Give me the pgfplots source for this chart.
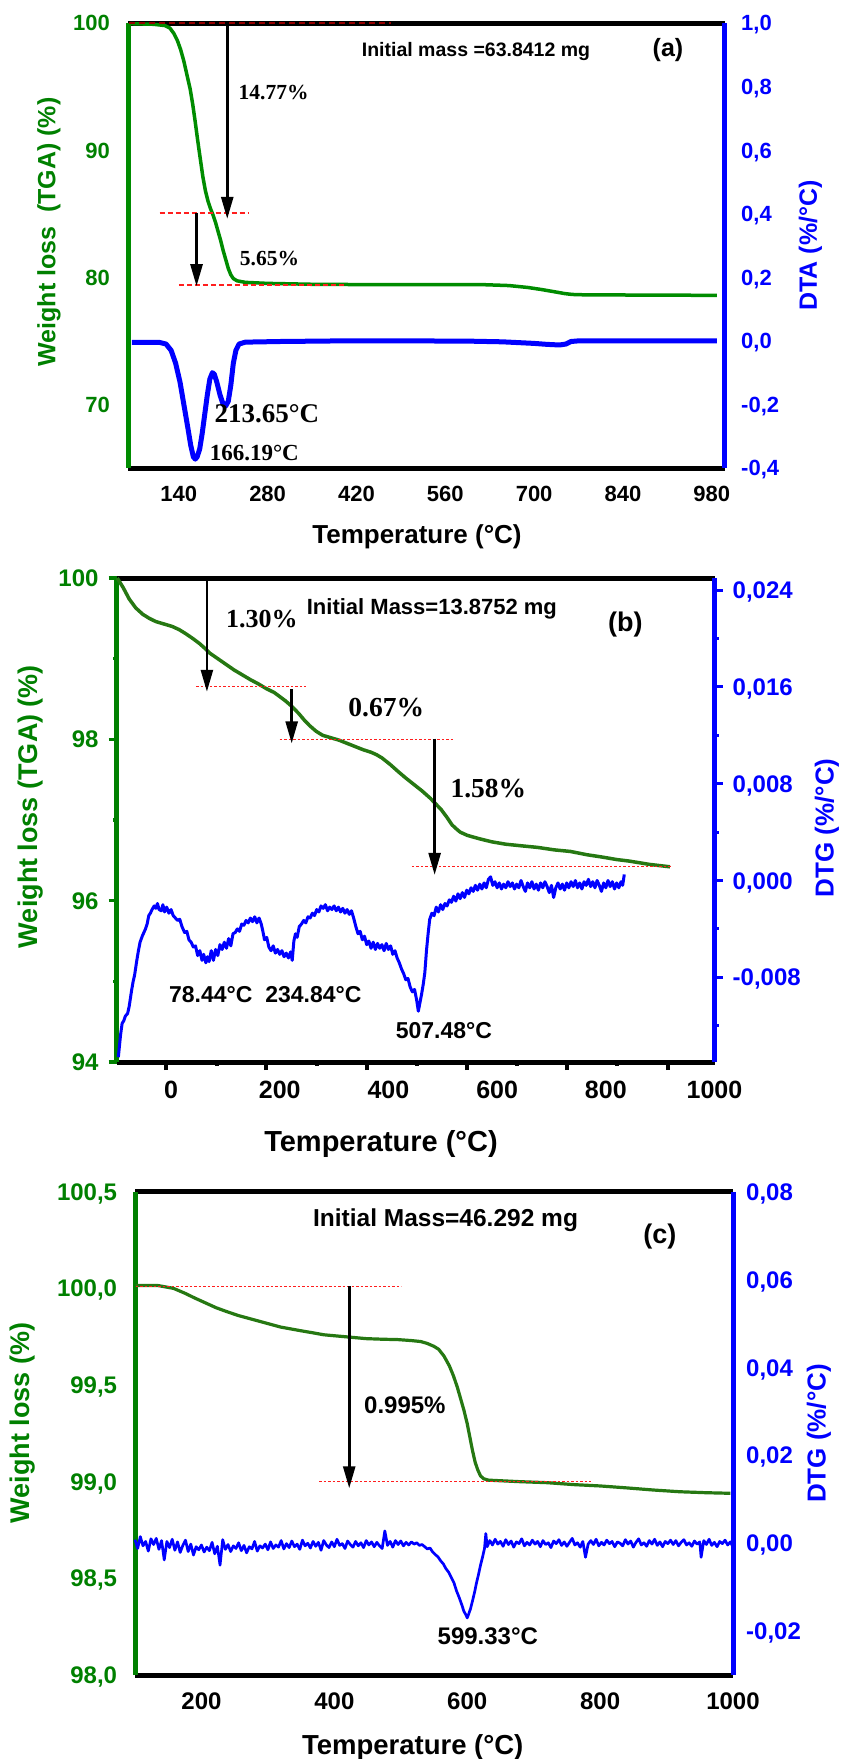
\documentclass[border=0pt]{standalone}
\usepackage{pgfplots}
\pgfplotsset{compat=1.18}
\usetikzlibrary{arrows.meta}
\usepackage{fontspec}
\setmainfont{Liberation Sans}
\newfontfamily\tnr{Liberation Serif}

\definecolor{tgagreen}{RGB}{0,140,0}
\definecolor{tgadark}{RGB}{38,120,18}
\definecolor{labgreen}{RGB}{0,128,0}
\definecolor{dtgblue}{RGB}{0,0,255}
\definecolor{refred}{RGB}{255,30,30}
\definecolor{topred}{RGB}{150,0,0}

\newcommand{\fs}[1]{\fontsize{#1pt}{#1pt}\selectfont}

\pgfplotsset{
  panel/.style={scale only axis, clip=false, scaled ticks=false,
    /pgf/number format/assume math mode=true},
}
\tikzset{
  drop/.style={-{Triangle[length=22pt,width=12pt]}, line width=2.6pt, black},
  refline/.style={refred, line width=1.4pt, dash pattern=on 5pt off 3pt},
  refdot/.style={refred, line width=1.2pt, dash pattern=on 2.5pt off 2pt},
}

\begin{document}
\begin{tikzpicture}
\useasboundingbox (0,0) rectangle (844pt,-1759pt);

% ================= (a) =================
\begin{axis}[panel,
  at={(128pt,-468pt)}, anchor=south west, width=596.5pt, height=445pt,
  xmin=60, xmax=1000, ymin=65, ymax=100,
  axis x line*=box, axis y line*=left, xtick pos=left,
  x axis line style={black, line width=5pt},
  y axis line style={tgagreen, line width=5pt},
  major tick length=0pt, minor tick num=0,
  xtick={140,280,420,560,700,840,980},
  xticklabels={140,280,420,560,700,840,980},
  ytick={70,80,90,100}, yticklabels={70,80,90,100},
  xticklabel style={font=\bfseries\fs{22}, anchor=center, inner sep=0pt, yshift=-26pt},
  yticklabel style={font=\bfseries\fs{22}, text=labgreen, anchor=base east, inner sep=0pt, xshift=-18pt, yshift=-7.9pt},
]
\addplot[tgagreen, line width=3.5pt, line join=round] coordinates {
(62,99.95)(100,99.9)(118,99.8)(126,99.6)(132,99.2)(138,98.6)(143,97.9)(148,97.0)
(153,95.9)(158,94.8)(162,93.6)(166,92.2)(170,90.7)(174,89.3)(178,87.9)(182,86.8)
(186,86.0)(190,85.4)(194,84.9)(198,84.3)(202,83.6)(206,82.9)(210,82.1)(214,81.4)
(218,80.7)(222,80.2)(226,79.9)(232,79.72)(245,79.6)(280,79.52)(350,79.45)(450,79.42)
(550,79.42)(620,79.42)(660,79.35)(690,79.2)(710,79.05)(730,78.88)(748,78.72)(760,78.65)
(780,78.62)(880,78.6)(988,78.58)};
% step lines and drops
\draw[topred, line width=1.6pt, dash pattern=on 6pt off 4pt] (axis cs:62,100) -- (axis cs:475,100);
\draw[refline] (axis cs:110,85.07) -- (axis cs:249,85.07);
\draw[refline] (axis cs:140,79.38) -- (axis cs:403,79.38);
\draw[drop] (axis cs:216.4,100) -- (axis cs:216.4,84.6);
\draw[drop] (axis cs:168,85.07) -- (axis cs:168,79.3);
\node[font=\tnr\bfseries\fs{21.5}] at (axis cs:289.5,94.5) {14.77\%};
\node[font=\tnr\bfseries\fs{21.5}] at (axis cs:283,81.44) {5.65\%};
\node[font=\bfseries\fs{19.5}] at (axis cs:608.4,97.73) {Initial mass =63.8412 mg};
\node[font=\bfseries\fs{25}] at (axis cs:911,97.9) {(a)};
\end{axis}

\begin{axis}[panel,
  at={(128pt,-468pt)}, anchor=south west, width=596.5pt, height=445pt,
  xmin=60, xmax=1000, ymin=-0.4, ymax=1.0,
  axis x line=none, axis y line*=right,
  y axis line style={dtgblue, line width=5pt},
  major tick length=0pt, minor tick num=0,
  ytick={-0.4,-0.2,0,0.2,0.4,0.6,0.8,1.0},
  yticklabels={{-0,4},{-0,2},{0,0},{0,2},{0,4},{0,6},{0,8},{1,0}},
  yticklabel style={font=\bfseries\fs{22}, text=dtgblue, anchor=base west, inner sep=0pt, xshift=16.5pt, yshift=-7.9pt},
]
\addplot[dtgblue, line width=5pt, line join=round] coordinates {
(66,-0.005)(110,-0.005)(120,-0.01)(128,-0.03)(135,-0.07)(142,-0.13)(148,-0.2)(154,-0.27)
(159,-0.33)(163,-0.365)(166,-0.372)(169,-0.365)(173,-0.34)(177,-0.29)(181,-0.23)(185,-0.17)
(189,-0.12)(193,-0.1)(196,-0.105)(200,-0.13)(205,-0.17)(210,-0.2)(214,-0.205)(218,-0.19)
(222,-0.14)(226,-0.07)(230,-0.03)(235,-0.01)(245,-0.004)(300,-0.002)(400,0.0)(500,0.0)
(600,-0.001)(650,-0.003)(700,-0.008)(720,-0.011)(740,-0.013)(750,-0.01)(758,-0.002)(770,0.0)
(850,0.0)(988,0.0)};
\node[font=\tnr\bfseries\fs{27}] at (axis cs:279,-0.230) {213.65°C};
\node[font=\tnr\bfseries\fs{23}] at (axis cs:259,-0.354) {166.19°C};
\end{axis}

\node[rotate=90, font=\bfseries\fs{25}, text=labgreen] at (49pt,-232pt) {Weight loss\ \ (TGA) (\%)};
\node[rotate=90, font=\bfseries\fs{25}, text=dtgblue] at (810.5pt,-245.5pt) {DTA (\%/°C)};
\node[anchor=base, font=\bfseries\fs{26}] at (417pt,-543pt) {Temperature (°C)};

% ================= (b) =================
\begin{axis}[panel,
  at={(116.7pt,-1062pt)}, anchor=south west, width=597.8pt, height=484pt,
  xmin=-100, xmax=1000, ymin=94, ymax=100,
  axis x line*=box, axis y line*=left, xtick pos=left,
  x axis line style={black, line width=5pt},
  y axis line style={labgreen, line width=5pt},
  tick align=outside, major tick length=8pt, minor tick length=3.5pt,
  xtick={-9,175.3,360.2,544.5,728.7,913.7}, xticklabels={},
  minor xtick={84.6,268.1,453.1,636.6,820.8},
  ytick={94,96,98,100}, yticklabels={}, minor ytick={95,97,99},
  xtick style={black, line width=4pt},
  ytick style={labgreen, line width=3.5pt},
]
\addplot[tgadark, line width=3.5pt, line join=round] coordinates {
(-99,100)(-88,99.88)(-77,99.74)(-65,99.63)(-52,99.55)(-40,99.5)(-28,99.46)(-13,99.43)
(2,99.4)(15,99.36)(27,99.31)(40,99.25)(52,99.19)(62,99.13)(71,99.07)(86,99.0)
(101,98.93)(116,98.86)(131,98.8)(146,98.74)(160,98.69)(175,98.63)(190,98.58)(200,98.53)
(210,98.48)(222,98.41)(235,98.32)(245,98.24)(255,98.17)(267,98.1)(279,98.05)(294,98.02)
(309,97.99)(324,97.95)(339,97.91)(354,97.87)(368,97.84)(378,97.81)(388,97.77)(403,97.69)
(418,97.6)(432,97.52)(447,97.44)(462,97.36)(477,97.27)(487,97.2)(497,97.13)(507,97.04)
(517,96.94)(525,96.89)(532,96.85)(545,96.81)(566,96.77)(590,96.73)(616,96.70)(645,96.68)
(675,96.66)(705,96.63)(735,96.61)(765,96.57)(794,96.54)(820,96.51)(844,96.49)(880,96.45)
(918,96.42)};
\draw[refdot] (axis cs:46.5,98.66) -- (axis cs:247.5,98.66);
\draw[refdot] (axis cs:200,98.00) -- (axis cs:520,98.00);
\draw[refdot] (axis cs:443,96.42) -- (axis cs:921,96.42);
\draw[drop] (axis cs:66,100) -- (axis cs:66,98.59);
\draw[drop] (axis cs:222,98.62) -- (axis cs:222,97.95);
\draw[drop] (axis cs:485,98.01) -- (axis cs:485,96.32);
\node[font=\tnr\bfseries\fs{26}] at (axis cs:167,99.49) {1.30\%};
\node[font=\tnr\bfseries\fs{27.5}] at (axis cs:396,98.40) {0.67\%};
\node[font=\tnr\bfseries\fs{27.5}] at (axis cs:584,97.39) {1.58\%};
\node[font=\bfseries\fs{22}] at (axis cs:480,99.62) {Initial Mass=13.8752 mg};
\node[font=\bfseries\fs{27}] at (axis cs:836,99.42) {(b)};
\end{axis}

% tick labels of (b)
\begin{axis}[panel,
  at={(116.7pt,-1062pt)}, anchor=south west, width=597.8pt, height=484pt,
  xmin=-100, xmax=1000, ymin=94, ymax=100,
  axis x line*=bottom, axis y line*=left, axis line style={draw=none},
  major tick length=0pt, minor tick num=0,
  xtick={0,200,400,600,800,1000}, xticklabels={0,200,400,600,800,1000},
  ytick={94,96,98,100}, yticklabels={94,96,98,100},
  xticklabel style={font=\bfseries\fs{25}, anchor=center, inner sep=0pt, yshift=-28pt},
  yticklabel style={font=\bfseries\fs{24}, text=labgreen, anchor=base east, inner sep=0pt, xshift=-18pt, yshift=-8.6pt},
]
\end{axis}

\begin{axis}[panel,
  at={(116.7pt,-1062pt)}, anchor=south west, width=597.8pt, height=484pt,
  xmin=-100, xmax=1000, ymin=-0.015, ymax=0.025,
  axis x line=none, axis y line*=right,
  y axis line style={dtgblue, line width=5pt},
  tick align=outside, major tick length=8pt, minor tick length=4pt,
  ytick={-0.008,0,0.008,0.016,0.024}, yticklabels={},
  minor ytick={-0.012,-0.004,0.004,0.012,0.020},
  ytick style={dtgblue, line width=3pt},
]
\addplot[dtgblue, line width=3pt, line join=round] coordinates {
(-97,-0.0146)(-93,-0.0128)(-90,-0.0118)(-87,-0.0116)(-84,-0.0112)(-80,-0.0110)(-77,-0.0104)
(-73,-0.0092)(-70,-0.0084)(-67,-0.0078)(-63,-0.0066)(-60,-0.0058)(-57,-0.0051)(-53,-0.0046)
(-50,-0.0043)(-47,-0.0040)(-44,-0.0036)(-41,-0.0029)(-38,-0.0027)(-35,-0.0024)(-31,-0.0021)
(-28,-0.0023)(-25,-0.0019)(-22,-0.0024)(-18,-0.0025)(-15,-0.0020)(-12,-0.0026)(-8,-0.0022)
(-4,-0.0027)(0,-0.0024)(4,-0.0029)(8,-0.0031)(12,-0.0033)(16,-0.0032)(20,-0.0038)(25,-0.0043)
(29,-0.0042)(33,-0.0049)(37,-0.0051)(41,-0.0055)(45,-0.0054)(49,-0.0062)(53,-0.0058)(57,-0.0066)
(60,-0.0061)(64,-0.0068)(67,-0.0063)(70,-0.0067)(74,-0.0058)(78,-0.0066)(82,-0.0057)(86,-0.0062)
(90,-0.0053)(94,-0.0057)(98,-0.0051)(102,-0.0056)(106,-0.0048)(110,-0.0054)(114,-0.0044)
(118,-0.0043)(122,-0.0040)(126,-0.0042)(130,-0.0036)(134,-0.0037)(138,-0.0033)(142,-0.0035)
(146,-0.0031)(150,-0.0034)(154,-0.0030)(158,-0.0035)(162,-0.0031)(166,-0.0036)(169,-0.0042)
(172,-0.0049)(176,-0.0047)(180,-0.0055)(184,-0.0058)(188,-0.0054)(192,-0.0060)(196,-0.0057)
(200,-0.0061)(204,-0.0058)(208,-0.0063)(212,-0.0060)(216,-0.0064)(220,-0.0059)(223,-0.0066)
(226,-0.0050)(229,-0.0044)(232,-0.0047)(236,-0.0038)(240,-0.0036)(244,-0.0033)(248,-0.0035)
(252,-0.0030)(256,-0.0031)(260,-0.0027)(264,-0.0029)(268,-0.0024)(272,-0.0026)(276,-0.0021)
(280,-0.0023)(284,-0.0020)(288,-0.0025)(292,-0.0022)(296,-0.0024)(300,-0.0021)(304,-0.0025)
(308,-0.0022)(312,-0.0026)(316,-0.0023)(320,-0.0027)(324,-0.0024)(328,-0.0028)(332,-0.0025)
(336,-0.0031)(340,-0.0038)(344,-0.0044)(348,-0.0042)(352,-0.0049)(356,-0.0046)(360,-0.0053)
(364,-0.0050)(368,-0.0056)(372,-0.0051)(376,-0.0057)(380,-0.0052)(384,-0.0056)(388,-0.0053)
(392,-0.0058)(396,-0.0052)(400,-0.0057)(404,-0.0054)(408,-0.0061)(412,-0.0058)(416,-0.0064)
(420,-0.0068)(424,-0.0073)(428,-0.0077)(432,-0.0082)(436,-0.0081)(440,-0.0088)(444,-0.0092)
(448,-0.0090)(452,-0.0099)(455,-0.0108)(458,-0.0101)(461,-0.0094)(464,-0.0086)(467,-0.0076)
(470,-0.0058)(473,-0.0044)(476,-0.0032)(480,-0.0027)(484,-0.0029)(488,-0.0022)(492,-0.0026)
(496,-0.0020)(500,-0.0024)(504,-0.0019)(508,-0.0021)(512,-0.0016)(516,-0.0018)(520,-0.0013)
(524,-0.0017)(528,-0.0011)(532,-0.0015)(536,-0.0010)(540,-0.0014)(544,-0.0008)(548,-0.0011)
(552,-0.0006)(556,-0.0009)(560,-0.0004)(564,-0.0008)(568,-0.0003)(572,-0.0007)(576,-0.0002)
(580,-0.0006)(584,0.0001)(588,0.0003)(592,-0.0004)(596,-0.0001)(600,-0.0006)(604,-0.0002)
(608,-0.0007)(612,-0.0003)(616,-0.0006)(620,-0.0001)(624,-0.0005)(628,-0.0002)(632,-0.0007)
(636,-0.0003)(640,-0.0006)(644,0.0000)(648,-0.0005)(652,-0.0009)(656,-0.0002)(660,-0.0006)
(664,-0.0001)(668,-0.0007)(672,-0.0003)(676,-0.0008)(680,-0.0002)(684,-0.0006)(688,-0.0001)
(692,-0.0005)(696,-0.0010)(700,-0.0004)(704,-0.0014)(708,-0.0006)(712,-0.0002)(716,-0.0007)
(720,-0.0003)(724,-0.0008)(728,-0.0002)(732,-0.0006)(736,-0.0001)(740,-0.0005)(744,0.0000)
(748,-0.0006)(752,-0.0002)(756,-0.0007)(760,-0.0001)(764,-0.0004)(768,0.0001)(772,-0.0005)
(776,-0.0001)(780,-0.0006)(784,0.0000)(788,-0.0004)(792,-0.0009)(796,-0.0002)(800,-0.0006)
(804,0.0000)(808,-0.0005)(812,-0.0001)(816,-0.0007)(820,-0.0002)(824,-0.0006)(828,-0.0001)
(831,-0.0004)(834,0.0005)};
\node[font=\bfseries\fs{23}] at (axis cs:73,-0.0094) {78.44°C};
\node[font=\bfseries\fs{23}] at (axis cs:262,-0.0094) {234.84°C};
\node[font=\bfseries\fs{23}] at (axis cs:502,-0.0124) {507.48°C};
\end{axis}

\begin{axis}[panel,
  at={(116.7pt,-1062pt)}, anchor=south west, width=597.8pt, height=484pt,
  xmin=-100, xmax=1000, ymin=-0.015, ymax=0.025,
  axis x line=none, axis y line*=right, axis line style={draw=none},
  major tick length=0pt, minor tick num=0,
  ytick={-0.008,0,0.008,0.016,0.024},
  yticklabels={{-0,008},{0,000},{0,008},{0,016},{0,024}},
  yticklabel style={font=\bfseries\fs{24}, text=dtgblue, anchor=base west, inner sep=0pt, xshift=18pt, yshift=-8.6pt},
]
\end{axis}

\node[rotate=90, font=\bfseries\fs{27}, text=labgreen] at (31pt,-806.5pt) {Weight loss (TGA) (\%)};
\node[rotate=90, font=\bfseries\fs{26}, text=dtgblue] at (827pt,-828pt) {DTG (\%/°C)};
\node[anchor=base, font=\bfseries\fs{29}] at (381pt,-1151pt) {Temperature (°C)};

% ================= (c) =================
\begin{axis}[panel,
  at={(135pt,-1675pt)}, anchor=south west, width=598pt, height=483.3pt,
  xmin=100, xmax=1000, ymin=98, ymax=100.5,
  axis x line*=box, axis y line*=left, xtick pos=left,
  x axis line style={black, line width=5pt},
  y axis line style={labgreen, line width=5pt},
  major tick length=0pt, minor tick num=0,
  xtick={200,400,600,800,1000}, xticklabels={200,400,600,800,1000},
  ytick={98,98.5,99,99.5,100,100.5},
  yticklabels={{98,0},{98,5},{99,0},{99,5},{100,0},{100,5}},
  xticklabel style={font=\bfseries\fs{24}, anchor=center, inner sep=0pt, yshift=-26pt},
  yticklabel style={font=\bfseries\fs{24}, text=labgreen, anchor=base east, inner sep=0pt, xshift=-17.7pt, yshift=-8.6pt},
]
\addplot[tgadark, line width=3.2pt, line join=round] coordinates {
(101,100.015)(134,100.015)(158,100.0)(175,99.975)(190,99.95)(206,99.925)(222,99.90)(238,99.88)
(255,99.86)(271,99.845)(287,99.83)(303,99.815)(319,99.80)(335,99.79)(351,99.78)(368,99.77)
(384,99.76)(400,99.755)(416,99.75)(432,99.745)(448,99.74)(472,99.737)(496,99.735)(516,99.73)
(530,99.725)(540,99.715)(550,99.70)(557,99.685)(565,99.65)(573,99.60)(579,99.55)(585,99.49)
(590,99.43)(595,99.37)(600,99.30)(604,99.23)(608,99.16)(612,99.10)(616,99.06)(620,99.03)
(625,99.015)(632,99.008)(650,99.005)(680,99.0)(720,98.995)(760,98.985)(800,98.978)(840,98.968)
(880,98.957)(920,98.948)(960,98.943)(996,98.94)};
\draw[refdot] (axis cs:101,100.01) -- (axis cs:500.6,100.01);
\draw[refdot] (axis cs:377,99.0) -- (axis cs:786.6,99.0);
\draw[drop] (axis cs:422.4,100.01) -- (axis cs:422.4,98.966);
\node[font=\bfseries\fs{24}] at (axis cs:506.2,99.398) {0.995\%};
\node[font=\bfseries\fs{24.5}] at (axis cs:567.4,100.35) {Initial Mass=46.292 mg};
\node[font=\bfseries\fs{27}] at (axis cs:889.8,100.27) {(c)};
\end{axis}

\begin{axis}[panel,
  at={(135pt,-1675pt)}, anchor=south west, width=598pt, height=483.3pt,
  xmin=100, xmax=1000, ymin=-0.03, ymax=0.08,
  axis x line=none, axis y line*=right,
  y axis line style={dtgblue, line width=5pt},
  major tick length=0pt, minor tick num=0,
  ytick={-0.02,0,0.02,0.04,0.06,0.08},
  yticklabels={{-0,02},{0,00},{0,02},{0,04},{0,06},{0,08}},
  yticklabel style={font=\bfseries\fs{24}, text=dtgblue, anchor=base west, inner sep=0pt, xshift=13pt, yshift=-8.6pt},
]
\addplot[dtgblue, line width=2.7pt, line join=round] coordinates {
(100,0.0008)(104,-0.0012)(108,0.0015)(112,-0.0006)(116,0.0004)(120,-0.0018)(124,0.0010)
(128,-0.0003)(132,0.0011)(136,-0.0014)(140,0.0006)(144,-0.0038)(148,0.0004)(152,-0.0010)
(156,0.0009)(160,-0.0016)(164,0.0003)(168,-0.0021)(172,-0.0005)(176,0.0007)(180,-0.0019)
(184,-0.0002)(188,-0.0027)(192,-0.0008)(196,-0.0015)(200,-0.0004)(204,-0.0020)(208,-0.0009)
(212,-0.0017)(216,0.0002)(220,-0.0024)(224,-0.0007)(228,-0.0050)(232,0.0008)(236,-0.0014)
(240,-0.0003)(244,-0.0019)(248,-0.0006)(252,-0.0012)(256,0.0001)(260,-0.0017)(264,-0.0005)
(268,-0.0022)(272,-0.0008)(276,-0.0013)(280,0.0004)(284,-0.0018)(288,-0.0006)(292,-0.0011)
(296,-0.0002)(300,-0.0015)(304,0.0003)(308,-0.0012)(312,-0.0004)(316,-0.0009)(320,0.0006)
(324,-0.0013)(328,-0.0001)(332,-0.0010)(336,0.0005)(340,-0.0008)(344,-0.0002)(348,-0.0014)
(352,0.0007)(356,-0.0006)(360,0.0000)(364,-0.0011)(368,0.0004)(372,-0.0007)(376,0.0002)
(380,-0.0016)(384,0.0006)(388,-0.0004)(392,-0.0010)(396,0.0003)(400,-0.0008)(404,0.0009)
(408,-0.0005)(412,-0.0001)(416,-0.0012)(420,0.0005)(424,-0.0003)(428,-0.0009)(432,0.0004)
(436,-0.0006)(440,0.0001)(444,-0.0010)(448,0.0006)(452,-0.0004)(456,0.0003)(460,-0.0008)
(464,0.0002)(468,-0.0006)(472,-0.0012)(476,0.0028)(480,-0.0005)(484,0.0004)(488,-0.0009)
(492,0.0006)(496,-0.0003)(500,0.0005)(504,-0.0006)(508,0.0002)(512,-0.0004)(516,0.0003)
(520,-0.0002)(524,0.0001)(528,-0.0005)(532,-0.0003)(536,-0.0008)(540,-0.0013)(544,-0.0011)
(548,-0.0020)(552,-0.0026)(556,-0.0031)(560,-0.0040)(564,-0.0047)(568,-0.0058)(572,-0.0066)
(576,-0.0078)(580,-0.0090)(584,-0.0109)(588,-0.0124)(592,-0.0141)(595,-0.0155)(598,-0.0163)
(600,-0.0170)(602,-0.0162)(605,-0.0149)(608,-0.0131)(611,-0.0112)(614,-0.0090)(617,-0.0071)
(620,-0.0050)(623,-0.0032)(626,-0.0012)(628,0.0022)(630,-0.0008)(634,0.0006)(638,-0.0004)
(642,0.0009)(646,-0.0002)(650,0.0004)(654,-0.0007)(658,0.0008)(662,-0.0003)(666,0.0005)
(670,-0.0009)(674,0.0003)(678,-0.0001)(682,0.0010)(686,-0.0006)(690,0.0002)(694,-0.0004)
(698,0.0007)(702,-0.0002)(706,0.0004)(710,-0.0008)(714,0.0006)(718,-0.0003)(722,0.0001)
(726,-0.0010)(730,0.0005)(734,-0.0001)(738,0.0008)(742,-0.0005)(746,0.0003)(750,-0.0007)
(754,0.0002)(758,0.0011)(762,-0.0004)(766,0.0001)(770,-0.0009)(774,0.0004)(778,-0.0032)
(782,-0.0002)(786,0.0006)(790,-0.0003)(794,0.0009)(798,-0.0006)(802,0.0002)(806,-0.0004)
(810,0.0007)(814,-0.0001)(818,0.0004)(822,-0.0008)(826,0.0003)(830,0.0000)(834,-0.0006)
(838,0.0008)(842,-0.0002)(846,0.0005)(850,-0.0009)(854,0.0002)(858,0.0010)(862,-0.0004)
(866,0.0001)(870,-0.0007)(874,0.0006)(878,-0.0002)(882,0.0009)(886,-0.0005)(890,0.0003)
(894,-0.0008)(898,0.0004)(902,-0.0001)(906,0.0007)(910,-0.0003)(914,0.0006)(918,-0.0006)
(922,0.0002)(926,0.0008)(930,-0.0004)(934,0.0001)(938,-0.0007)(942,0.0005)(946,-0.0002)
(950,0.0003)(952,-0.0032)(956,0.0006)(960,-0.0003)(964,0.0009)(968,-0.0005)(972,0.0002)
(976,-0.0008)(980,0.0004)(984,-0.0001)(988,0.0007)(992,-0.0004)(996,0.0003)(999,-0.0006)};
\node[font=\bfseries\fs{24}] at (axis cs:631,-0.0212) {599.33°C};
\end{axis}

\node[rotate=90, font=\bfseries\fs{27}, text=labgreen] at (22.8pt,-1423pt) {Weight loss (\%)};
\node[rotate=90, font=\bfseries\fs{26}, text=dtgblue] at (819pt,-1433.5pt) {DTG (\%/°C)};
\node[anchor=base, font=\bfseries\fs{27.5}] at (412.7pt,-1754pt) {Temperature (°C)};

\end{tikzpicture}
\end{document}
